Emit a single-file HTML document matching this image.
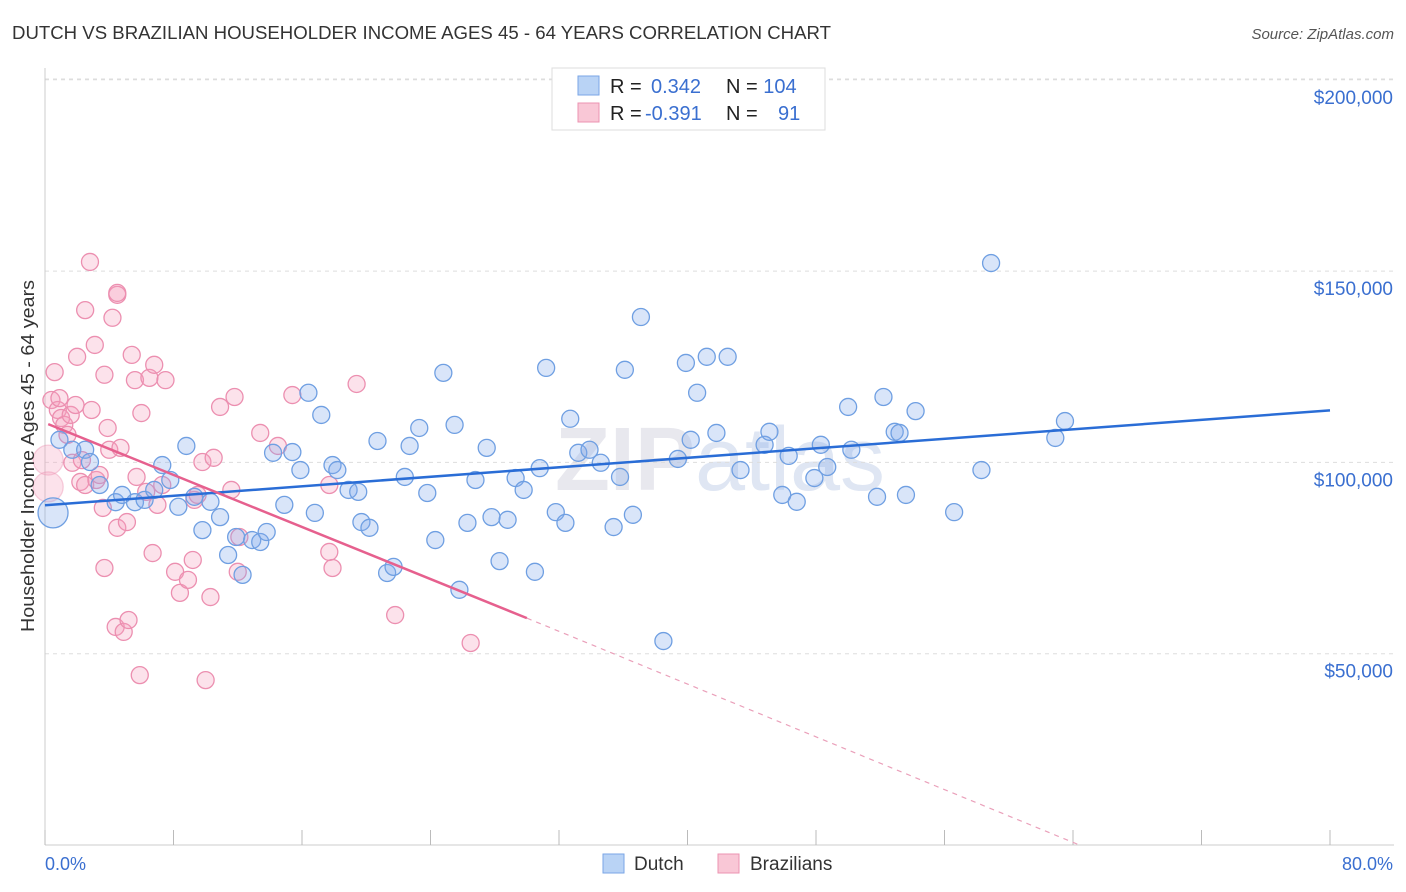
<!DOCTYPE html>
<html><head><meta charset="utf-8"><style>
body{margin:0;background:#fff;font-family:"Liberation Sans",sans-serif}
svg{display:block}
</style></head><body>
<svg id="chart" width="1406" height="892">
<text x="12" y="39" font-size="18" fill="#333" textLength="819" lengthAdjust="spacingAndGlyphs">DUTCH VS BRAZILIAN HOUSEHOLDER INCOME AGES 45 - 64 YEARS CORRELATION CHART</text>
<text x="1394" y="39" font-size="15" fill="#555" text-anchor="end" font-style="italic">Source: ZipAtlas.com</text>
<text x="720" y="490" font-size="90" fill="#e8e8ee" text-anchor="middle" font-weight="bold">ZIP<tspan font-weight="normal" fill="#dfe6f3">atlas</tspan></text>
<g id="grid"></g>
<g id="axes"></g>
<g id="marks"></g>
<text transform="translate(34,456) rotate(-90)" font-size="18" fill="#333" text-anchor="middle" textLength="352" lengthAdjust="spacingAndGlyphs">Householder Income Ages 45 - 64 years</text>
<text x="45" y="870" font-size="18" fill="#3a6fd0">0.0%</text>
<text x="1393" y="870" font-size="18" fill="#3a6fd0" text-anchor="end">80.0%</text>
<g>
<rect x="552" y="68" width="273" height="62" fill="#fff" stroke="#ddd"/>
<rect x="578" y="76" width="21" height="19" fill="#b9d3f5" stroke="#7aa6e6"/>
<rect x="578" y="103" width="21" height="19" fill="#f9c7d6" stroke="#ec93b1"/>
<text x="610" y="93" font-size="20" fill="#222">R = <tspan fill="#3a6fd0" x="651">0.342</tspan><tspan x="726">N = </tspan><tspan fill="#3a6fd0">104</tspan></text>
<text x="610" y="120" font-size="20" fill="#222">R = <tspan fill="#3a6fd0" x="645">-0.391</tspan><tspan x="726">N = </tspan><tspan fill="#3a6fd0" x="778">91</tspan></text>
</g>
<g>
<rect x="603" y="854" width="21" height="19" fill="#b9d3f5" stroke="#7aa6e6"/>
<text x="634" y="870" font-size="19" fill="#333">Dutch</text>
<rect x="718" y="854" width="21" height="19" fill="#f9c7d6" stroke="#ec93b1"/>
<text x="750" y="870" font-size="19" fill="#333">Brazilians</text>
</g>
</svg>
<script>
const yTicks=[50000,100000,150000,200000];
const yTickLabels=["$50,000","$100,000","$150,000","$200,000"];
const xTicks=[0,8,16,24,32,40,48,56,64,72,80];
const dutchX=[0.5,0.9,1.7,2.5,2.8,3.4,4.4,4.8,5.6,6.2,6.8,7.3,7.8,8.3,8.8,9.3,9.8,10.3,10.9,11.4,11.9,12.3,12.9,13.4,13.8,14.2,14.9,15.4,15.9,16.4,16.8,17.2,17.9,18.2,18.9,19.5,19.7,20.2,20.7,21.3,21.7,22.4,22.7,23.3,23.8,24.3,24.8,25.5,25.8,26.3,26.8,27.5,27.8,28.3,28.8,29.3,29.8,30.5,30.8,31.2,31.8,32.4,32.7,33.2,33.9,34.6,35.4,35.8,36.1,36.6,37.1,38.5,39.4,39.9,40.2,40.6,41.2,41.8,42.5,43.3,44.8,45.1,45.9,46.3,46.8,47.9,48.3,48.7,50.0,50.2,51.8,52.2,52.9,53.2,53.6,54.2,56.6,58.3,58.9,62.9,63.5];
const dutchY=[86.8,105.9,103.3,103.3,100.1,94.1,89.6,91.5,89.6,90.2,92.8,99.3,95.4,88.4,104.3,91.0,82.3,89.7,85.7,75.8,80.5,70.6,79.7,79.2,81.8,102.5,88.9,102.7,98.0,118.2,86.8,112.4,99.3,98.0,92.8,92.3,84.4,82.9,105.6,71.1,72.7,96.2,104.3,109.0,92.0,79.7,123.4,109.8,66.7,84.2,95.4,103.8,85.7,74.2,85.0,95.9,92.8,71.4,98.5,124.7,87.0,84.2,111.4,102.5,103.3,99.9,83.1,96.2,124.2,86.3,138.0,53.3,100.9,126.0,105.9,118.2,127.6,107.7,127.6,98.0,104.6,108.0,91.5,101.7,89.7,95.9,104.6,98.8,114.5,103.3,91.0,117.1,108.0,107.7,91.5,113.4,87.0,98.0,152.1,106.4,110.8];
const brazX=[0.2,0.2,0.4,0.6,0.8,0.9,1.0,1.2,1.4,1.6,1.7,1.9,2.0,2.2,2.3,2.5,2.5,2.8,2.9,3.1,3.2,3.4,3.6,3.7,3.7,3.9,4.0,4.2,4.4,4.5,4.5,4.7,4.9,5.1,5.2,5.4,5.6,5.7,5.9,6.0,6.3,6.5,6.7,6.8,7.0,7.3,7.5,8.1,8.4,8.9,9.2,9.3,9.5,9.8,10.0,10.3,10.5,10.9,11.6,11.8,12.0,12.1,13.4,14.5,15.4,17.7,17.7,17.9,19.4,21.8,26.5,4.5];
const brazY=[100.6,93.6,116.3,123.6,113.7,116.8,111.6,109.8,107.2,112.4,99.9,115.0,127.6,94.9,100.6,94.1,139.8,152.4,113.7,130.7,95.4,96.7,88.1,122.9,72.4,109.0,103.3,137.8,57.0,143.8,82.9,103.8,55.7,84.4,58.8,128.1,121.5,96.2,44.4,112.9,92.3,122.1,76.3,125.5,88.9,94.1,121.5,71.4,65.9,69.3,74.5,90.2,91.5,100.1,43.1,64.8,101.2,114.5,92.8,117.1,71.4,80.5,107.7,104.3,117.6,94.1,76.6,72.4,120.5,60.1,52.8,144.3];
const blueTrend=[[0,88.8],[80,113.6]];
const pinkTrend=[[0.2,110],[30,59.3]];
const pinkDash=[[30,59.3],[64.4,0]];
const X=v=>45+v/80*1285;
const Y=v=>845-v/50*191.3;
const NS="http://www.w3.org/2000/svg";
function mk(t,a,p){const e=document.createElementNS(NS,t);for(const k in a)e.setAttribute(k,a[k]);p.appendChild(e);return e;}
const grid=document.getElementById('grid'),axes=document.getElementById('axes'),marks=document.getElementById('marks');
mk('line',{x1:45,y1:79,x2:1394,y2:79,stroke:'#ddd','stroke-dasharray':'4,4'},grid);
yTicks.forEach((t,i)=>{const yy=Y(t/1000);
 const l=mk('line',{x1:45,y1:yy,x2:1394,y2:yy,stroke:'#ddd','stroke-dasharray':'4,4'},grid);
 
 
 const tx=mk('text',{x:1393,y:yy+24,'font-size':19,fill:'#3a6fd0','text-anchor':'end'},axes);
 tx.textContent=yTickLabels[i];
 
 
});
mk('line',{x1:45,y1:68,x2:45,y2:845,stroke:'#ccc'},axes);
mk('line',{x1:45,y1:845,x2:1394,y2:845,stroke:'#ccc'},axes);
xTicks.forEach(t=>{const l=mk('line',{x1:X(t),y1:830,x2:X(t),y2:845,stroke:'#bbb'},axes);
 
 });
function pts(xs,ys,fill,stroke,name){xs.forEach((x,i)=>{
 const big=(name==='dutch-point'&&i===0)||(name==='brazilian-point'&&i<2);
 const c=mk('circle',{cx:X(x),cy:Y(ys[i]),r:big?15:8.5,fill:fill,stroke:stroke,'stroke-width':1.3},marks);
 if(big&&name==='brazilian-point')c.setAttribute('stroke-opacity','0.4');
 
 });}
pts(brazX,brazY,'rgba(244,160,190,0.3)','#ec8fb0','brazilian-point');
pts(dutchX,dutchY,'rgba(130,170,235,0.3)','#6f9fe2','dutch-point');
function ln(p,col,w,dash,name){const l=mk('line',{x1:X(p[0][0]),y1:Y(p[0][1]),x2:X(p[1][0]),y2:Y(p[1][1]),stroke:col,'stroke-width':w},marks);
 if(dash)l.setAttribute('stroke-dasharray',dash);
 
 }
ln(blueTrend,'#2a6dd6',2.5,null,'dutch-trendline');
ln(pinkTrend,'#e6608e',2.5,null,'brazilian-trendline');
ln(pinkDash,'#eaa0ba',1.2,'5,5','brazilian-trendline-extension');
</script>
</body></html>
